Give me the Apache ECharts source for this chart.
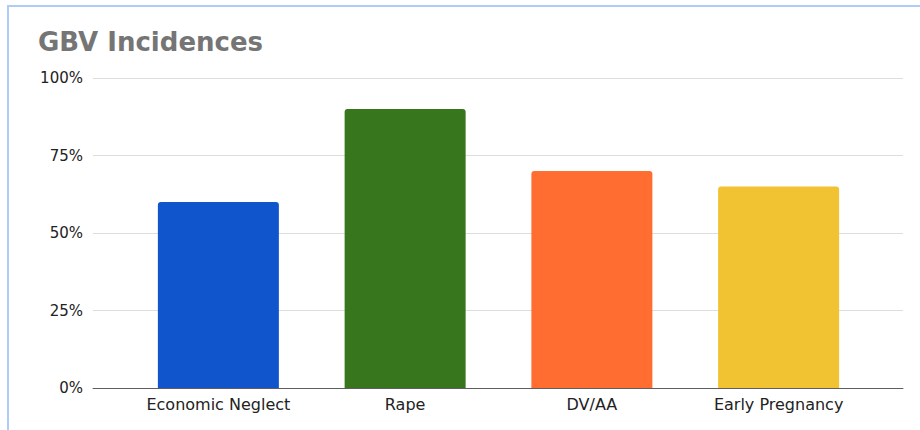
<!DOCTYPE html>
<html>
<head>
<meta charset="utf-8">
<script src="https://cdn.jsdelivr.net/npm/echarts@6/dist/echarts.min.js"></script>
<style>
  html, body { margin: 0; padding: 0; background: #ffffff; }
  #wrap { position: relative; width: 920px; height: 430px; overflow: hidden; }
  #chart { position: absolute; left: 0; top: 0; width: 920px; height: 430px; }
  #frame { position: absolute; left: 7px; top: 5px; width: 920px; height: 440px;
           border-left: 2px solid #aecbfa; border-top: 2px solid #aecbfa;
           pointer-events: none; }
</style>
</head>
<body>
<div id="wrap">
  <div id="chart"></div>
  <div id="frame"></div>
</div>
<script>
// GBV incidence rates by category (percent)
const categories = ['Economic Neglect', 'Rape', 'DV/AA', 'Early Pregnancy'];
const incidence = [60, 90, 70, 65];
const barColors = ['#1155cc', '#38761d', '#ff6d31', '#f1c232'];
const yTicks = [0, 25, 50, 75, 100];

const font = 'DejaVu Sans, Arial, sans-serif';
const chart = echarts.init(document.getElementById('chart'), null, { renderer: 'svg' });

chart.setOption({
  backgroundColor: '#ffffff',
  animation: false,
  title: {
    text: 'GBV Incidences',
    left: 33,
    top: 24,
    textStyle: { fontFamily: font, fontSize: 26, fontWeight: 'bold', color: '#757575' }
  },
  grid: [
    // full-width plot area carrying the value gridlines and baseline
    { left: 93, right: 17, top: 78, bottom: 42 },
    // inset band area that holds the bars
    { left: 125, right: 48, top: 78, bottom: 42 }
  ],
  xAxis: [
    {
      gridIndex: 0, type: 'category', data: categories,
      axisLine: { show: true, lineStyle: { color: '#5f5f5f', width: 1 } },
      axisTick: { show: false }, axisLabel: { show: false }, splitLine: { show: false }
    },
    {
      gridIndex: 1, type: 'category', data: categories,
      axisLine: { show: false }, axisTick: { show: false },
      axisLabel: { interval: 0, hideOverlap: false, margin: 8,
                   fontFamily: font, fontSize: 16, color: '#222222' }
    }
  ],
  yAxis: [
    {
      gridIndex: 0, type: 'value', min: yTicks[0], max: yTicks[yTicks.length - 1], interval: 25,
      axisLine: { show: false }, axisTick: { show: false },
      axisLabel: { margin: 10, fontFamily: font, fontSize: 15, color: '#222222',
                   formatter: v => v + '%' },
      splitLine: { lineStyle: { color: '#dddddd', width: 1 } }
    },
    {
      gridIndex: 1, type: 'value', min: yTicks[0], max: yTicks[yTicks.length - 1], interval: 25,
      show: false, splitLine: { show: false }
    }
  ],
  series: [{
    type: 'bar',
    xAxisIndex: 1, yAxisIndex: 1,
    barWidth: 121,
    data: incidence.map((v, i) => ({
      value: v,
      itemStyle: { color: barColors[i], borderRadius: [3, 3, 0, 0] }
    }))
  }]
});
</script>
</body>
</html>
